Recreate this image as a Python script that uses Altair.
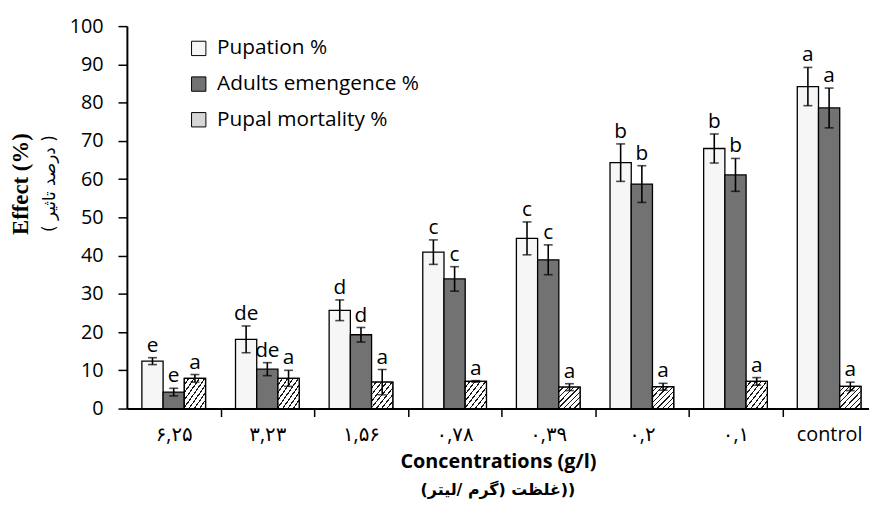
import altair as alt
import pandas as pd

# ---- data ----
categories = ["۶,۲۵", "۳,۲۳", "۱,۵۶", "۰,۷۸", "۰,۳۹", "۰,۲", "۰,۱", "control"]
series_names = ["Pupation %", "Adults emengence %", "Pupal mortality %"]

pupation = [12.4, 18.1, 25.7, 40.9, 44.5, 64.3, 68.0, 84.2]
pupation_err = [0.9, 3.5, 2.7, 3.2, 4.3, 4.9, 3.8, 5.0]
adults = [4.3, 10.3, 19.3, 33.9, 38.9, 58.7, 61.1, 78.6]
adults_err = [1.0, 1.7, 1.9, 3.2, 3.9, 4.8, 4.3, 5.2]
mortality = [7.9, 7.9, 6.9, 7.1, 5.6, 5.7, 7.1, 5.8]
mortality_err = [1.0, 2.1, 3.3, 0.2, 0.9, 0.9, 1.0, 1.1]

letters_pupation = ["e", "de", "d", "c", "c", "b", "b", "a"]
letters_adults = ["e", "de", "d", "c", "c", "b", "b", "a"]
letters_mortality = ["a", "a", "a", "a", "a", "a", "a", "a"]

y_ticks = [0, 10, 20, 30, 40, 50, 60, 70, 80, 90, 100]

y_title = "Effect (%)"
y_subtitle = "( درصد تاثیر )"
x_title = "Concentrations (g/l)"
x_subtitle = "(گرم /لیتر) غلظت))"

# ---- long table ----
rows = []
for name, vals, errs, lets in [
    (series_names[0], pupation, pupation_err, letters_pupation),
    (series_names[1], adults, adults_err, letters_adults),
    (series_names[2], mortality, mortality_err, letters_mortality),
]:
    for c, v, e, l in zip(categories, vals, errs, lets):
        rows.append({"cat": c, "series": name, "value": v,
                     "lo": v - e, "hi": v + e, "letter": l})
df = pd.DataFrame(rows)

fill_colors = ["#f6f6f6", "#727272", "#d6d6d6"]

# hatch gradient for pupal mortality bars
stops = []
n = 8
for k in range(n):
    a, b, c = k / n, (k + 0.74) / n, (k + 1) / n
    stops += [alt.GradientStop(color="white", offset=a),
              alt.GradientStop(color="white", offset=b),
              alt.GradientStop(color="#1a1a1a", offset=b),
              alt.GradientStop(color="#1a1a1a", offset=c)]
hatch_fill = alt.Gradient(gradient="linear", x1=0, y1=0, x2=1, y2=1, stops=stops)

STEP = 94.5
x_axis = alt.Axis(
    title=x_title, titleFont="Open Sans", titleFontSize=20, titleFontWeight="bold",
    titleColor="black", titleX=374.5, titleY=53, titleAlign="center",
    titleBaseline="middle",
    labelFont="Open Sans, DejaVu Sans", labelFontSize=20, labelColor="black",
    labelPadding=8, labelAngle=0, tickSize=8, tickColor="black", tickWidth=1.5,
    tickOffset=STEP / 2, labelOffset=-STEP / 2,
    domainColor="black", domainWidth=2, grid=False,
)
y_axis = alt.Axis(
    title=y_title, values=y_ticks, titleFont="Liberation Serif", titleFontSize=23,
    titleFontWeight="bold", titleColor="black", titleAngle=270, titleX=-107,
    titleY=159, titleAlign="center", titleBaseline="middle",
    labelFont="Open Sans", labelFontSize=20, labelColor="black", labelPadding=15,
    tickSize=9, tickColor="black", tickWidth=1.5, domainColor="black",
    domainWidth=2, grid=False,
)

x_enc = alt.X("cat:N", sort=categories,
              scale=alt.Scale(domain=categories, range=[0, 8 * STEP],
                              paddingInner=0.32, paddingOuter=0.16),
              axis=x_axis)
xo = alt.XOffset("series:N",
                 scale=alt.Scale(domain=series_names, paddingInner=0, paddingOuter=0))
y_scale = alt.Scale(domain=[0, 100])

legend = alt.Legend(
    title=None, orient="none", legendX=62, legendY=12, symbolType="square",
    symbolSize=210, symbolStrokeColor="black", symbolStrokeWidth=1,
    labelFont="Open Sans", labelFontSize=21, labelColor="black",
    labelOffset=8, rowPadding=14, labelLimit=0,
)

base = alt.Chart(df)

bars = base.mark_bar(stroke="black", strokeWidth=1.3).encode(
    x=x_enc, xOffset=xo,
    y=alt.Y("value:Q", scale=y_scale, axis=y_axis),
    color=alt.Color("series:N", sort=series_names,
                    scale=alt.Scale(domain=series_names, range=fill_colors),
                    legend=legend),
)

hatch = base.transform_filter(alt.datum.series == series_names[2]).mark_bar(
    fill=hatch_fill, stroke="black", strokeWidth=1.3
).encode(x=x_enc, xOffset=xo, y=alt.Y("value:Q", scale=y_scale, axis=y_axis))

err_rule = base.mark_rule(color="black", strokeWidth=1.6).encode(
    x=x_enc, xOffset=xo,
    y=alt.Y("lo:Q", scale=y_scale, axis=y_axis), y2="hi:Q",
)
cap_hi = base.mark_tick(color="black", thickness=1.6, size=9, orient="horizontal").encode(
    x=x_enc, xOffset=xo, y=alt.Y("hi:Q", scale=y_scale, axis=y_axis))
cap_lo = base.mark_tick(color="black", thickness=1.6, size=9, orient="horizontal").encode(
    x=x_enc, xOffset=xo, y=alt.Y("lo:Q", scale=y_scale, axis=y_axis))

labels = base.mark_text(baseline="alphabetic", dy=-6, fontSize=21,
                        font="Open Sans", color="black").encode(
    x=x_enc, xOffset=xo, y=alt.Y("hi:Q", scale=y_scale, axis=y_axis),
    text="letter:N",
)

y_sub = alt.Chart(pd.DataFrame({"t": [y_subtitle]})).mark_text(
    angle=270, font="DejaVu Sans", fontSize=17, color="black", baseline="middle"
).encode(x=alt.value(-78), y=alt.value(159), text="t:N")

x_sub = alt.Chart(pd.DataFrame({"t": [x_subtitle]})).mark_text(
    font="DejaVu Sans", fontSize=16, fontWeight="bold", color="black",
    baseline="middle"
).encode(x=alt.value(374.5), y=alt.value(468), text="t:N")

chart = alt.layer(bars, hatch, err_rule, cap_hi, cap_lo, labels, y_sub, x_sub).properties(
    width=749, height=386,
    autosize=alt.AutoSizeParams(type="none"),
    padding={"left": 120, "top": 16, "right": 0, "bottom": 90},
    background="white",
).configure_view(stroke=None)

chart.save("out.html", embed_options={"renderer": "svg", "actions": False})
